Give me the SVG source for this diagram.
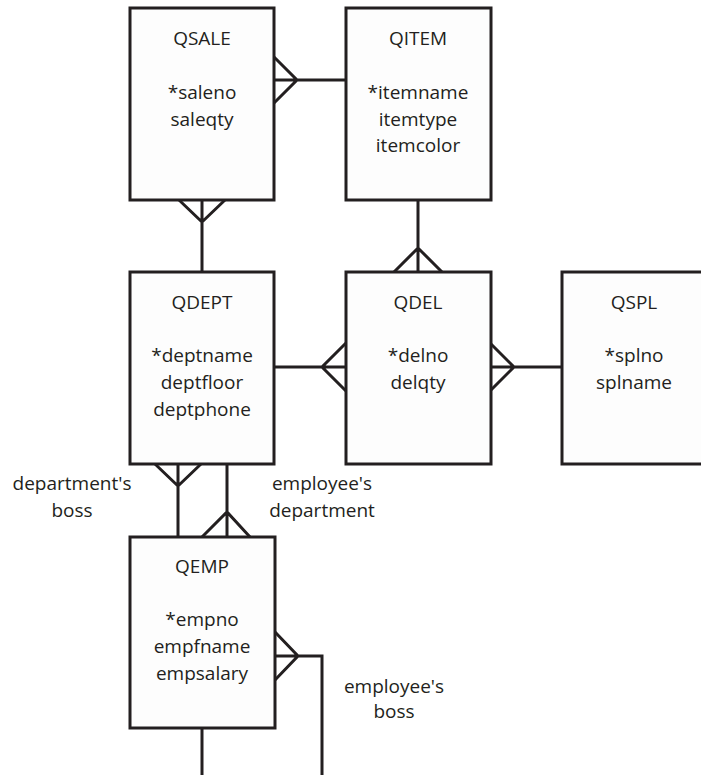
<svg xmlns="http://www.w3.org/2000/svg" width="701" height="775" viewBox="0 0 701 775">
<style>
.box{fill:#fdfdfd;stroke:#231f20;stroke-width:3}
.ln{fill:none;stroke:#231f20;stroke-width:3;stroke-linejoin:miter}
text{font-family:"Open Sans","Liberation Sans",sans-serif;font-size:19px;fill:#231f20;text-anchor:middle}
</style>
<rect width="701" height="775" fill="#ffffff"/>
<g id="connectors">
<!-- QSALE - QITEM -->
<path class="ln" d="M274,80 H346 M274,57 L297,80 L274,103"/>
<!-- QSALE - QDEPT -->
<path class="ln" d="M202,200 V272 M179,200 L202,222 L225,200"/>
<!-- QITEM - QDEL -->
<path class="ln" d="M418,200 V272 M394,272 L418,248 L442,272"/>
<!-- QDEPT - QDEL -->
<path class="ln" d="M274,367 H346 M346,343 L322,367 L346,391"/>
<!-- QDEL - QSPL -->
<path class="ln" d="M491,367 H562 M491,344 L514,367 L491,390"/>
<!-- department's boss -->
<path class="ln" d="M178,464 V537 M155,464 L178,486 L201,464"/>
<!-- employee's department -->
<path class="ln" d="M227,464 V537 M202,537 L227,512 L250,537"/>
<!-- employee's boss -->
<path class="ln" d="M275,656 H322 V775 M275,632 L298,656 L275,680"/>
<!-- QEMP bottom -->
<path class="ln" d="M202,728 V775"/>
</g>
<g id="QSALE">
<rect class="box" x="130" y="8" width="144" height="192"/>
<text x="202" y="45">QSALE</text>
<text x="202" y="99">*saleno</text>
<text x="202" y="126">saleqty</text>
</g>
<g id="QITEM">
<rect class="box" x="346" y="8" width="145" height="192"/>
<text x="418" y="45">QITEM</text>
<text x="418" y="99">*itemname</text>
<text x="418" y="126">itemtype</text>
<text x="418" y="152">itemcolor</text>
</g>
<g id="QDEPT">
<rect class="box" x="130" y="272" width="144" height="192"/>
<text x="202" y="309">QDEPT</text>
<text x="202" y="362">*deptname</text>
<text x="202" y="389">deptfloor</text>
<text x="202" y="416">deptphone</text>
</g>
<g id="QDEL">
<rect class="box" x="346" y="272" width="145" height="192"/>
<text x="418" y="309">QDEL</text>
<text x="418" y="362">*delno</text>
<text x="418" y="389">delqty</text>
</g>
<g id="QSPL">
<rect class="box" x="562" y="272" width="144" height="192"/>
<text x="634" y="309">QSPL</text>
<text x="634" y="362">*splno</text>
<text x="634" y="389">splname</text>
</g>
<g id="QEMP">
<rect class="box" x="130" y="537" width="145" height="191"/>
<text x="202" y="573">QEMP</text>
<text x="202" y="626">*empno</text>
<text x="202" y="653">empfname</text>
<text x="202" y="680">empsalary</text>
</g>
<g id="labels">
<text x="72" y="490">department's</text>
<text x="72" y="517">boss</text>
<text x="322" y="490">employee's</text>
<text x="322" y="517">department</text>
<text x="394" y="693">employee's</text>
<text x="394" y="718">boss</text>
</g>
</svg>
